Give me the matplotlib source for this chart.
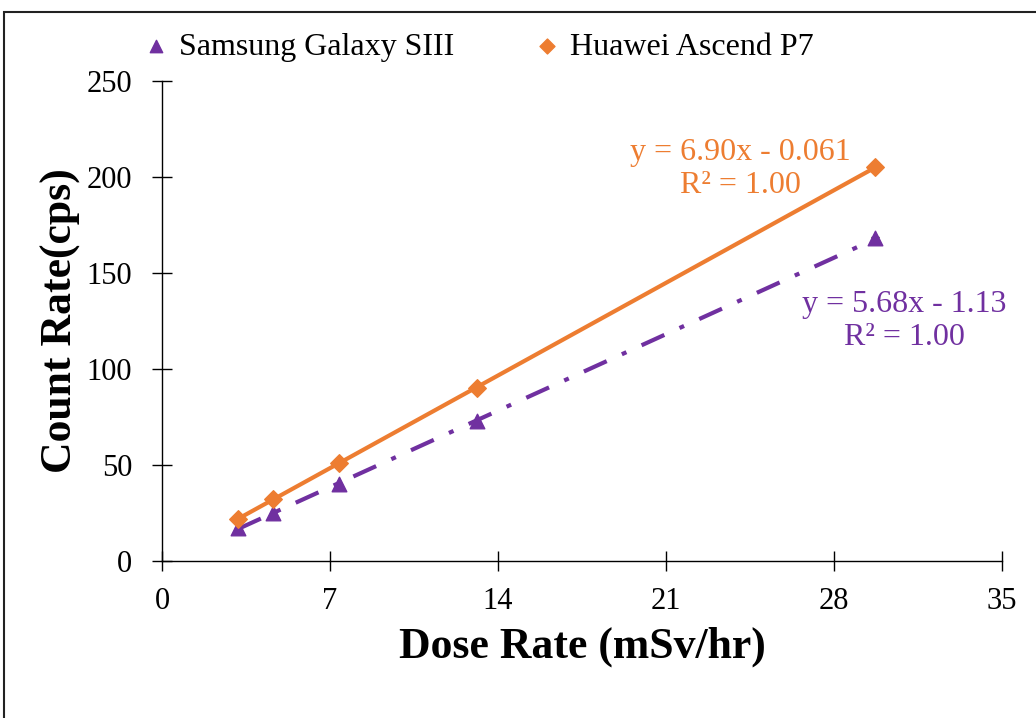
import numpy as np
import matplotlib
matplotlib.use('Agg')
import matplotlib.pyplot as plt
from matplotlib.patches import Rectangle

plt.rcParams['font.family'] = ['Liberation Serif', 'DejaVu Serif']

# dose rate (mSv/hr) and count rates (cps)
dose = [3.17, 4.63, 7.38, 13.13, 29.71]
samsung = [17.4, 25.2, 40.0, 72.8, 168.0]
huawei = [21.9, 32.2, 51.1, 90.3, 205.0]

orange = '#ED7D31'
purple = '#7030A0'

fig = plt.figure(figsize=(10.36, 7.18), dpi=100)
ax = fig.add_axes([162 / 1036, 1 - 561 / 718, 840 / 1036, 480 / 718])

# outer frame
fig.patches.append(Rectangle((4 / 1036, -0.05), 1.1, 1 - 12 / 718 + 0.05,
                             transform=fig.transFigure, fill=False,
                             edgecolor='#222222', lw=1.5))

x = np.array(dose)
xs = np.array([x.min(), x.max()])

# trend lines
p_s = np.polyfit(x, samsung, 1)
p_h = np.polyfit(x, huawei, 1)
ax.plot(xs, np.polyval(p_s, xs), color=purple, lw=3,
        dashes=(6, 4, 1.2, 4), zorder=2)
ax.plot(xs, np.polyval(p_h, xs), color=orange, lw=3, zorder=2)

ax.errorbar(dose[-1:], samsung[-1:], yerr=1.0, fmt='none', ecolor='black',
            capsize=3, lw=0.8, zorder=3)
ax.errorbar(dose[-1:], huawei[-1:], yerr=1.0, fmt='none', ecolor='black',
            capsize=3, lw=0.8, zorder=3)
ax.scatter(dose, samsung, marker='^', s=110, color=purple, zorder=4,
           label='Samsung Galaxy SIII')
ax.scatter(dose, huawei, marker='D', s=80, color=orange, zorder=4,
           label='Huawei Ascend P7')

ax.set_xlim(0, 35)
ax.set_ylim(0, 250)
ax.set_xticks(range(0, 36, 7))
ax.set_yticks(range(0, 251, 50))
ax.tick_params(labelsize=22, length=14, width=1, color='black',
               direction='inout')
ax.tick_params(axis='x', pad=12)
ax.tick_params(axis='y', pad=14.5)
for s in ['top', 'right']:
    ax.spines[s].set_visible(False)
for s in ['left', 'bottom']:
    ax.spines[s].set_color('black')
    ax.spines[s].set_linewidth(1)

ax.set_xlabel('Dose Rate (mSv/hr)', fontsize=31.5, fontweight='bold', labelpad=7)
ax.set_ylabel('Count Rate(cps)', fontsize=31.5, fontweight='bold', labelpad=4)

ax.annotate('y = 6.90x - 0.061\nR² = 1.00', xy=(740, 718 - 169),
            xycoords='figure pixels', color=orange, fontsize=23,
            ha='center', va='center', linespacing=1.2)
ax.annotate('y = 5.68x - 1.13\nR² = 1.00', xy=(904, 718 - 321),
            xycoords='figure pixels', color=purple, fontsize=23,
            ha='center', va='center', linespacing=1.2)

leg = fig.legend(*ax.get_legend_handles_labels(), loc='center left',
                 bbox_to_anchor=(143 / 1036, 1 - 47 / 718), ncol=2,
                 frameon=False, fontsize=23, handletextpad=0.32,
                 handlelength=0.8, columnspacing=2.5, markerscale=0.85,
                 borderpad=0, borderaxespad=0)

fig.savefig('out.png', dpi=100)
